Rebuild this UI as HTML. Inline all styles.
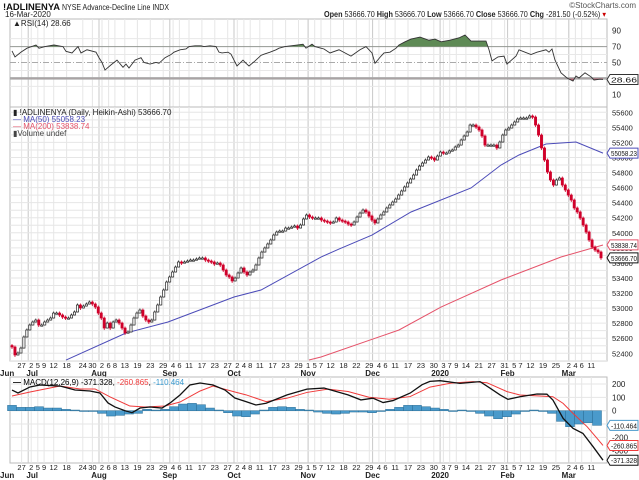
<!DOCTYPE html>
<html><head><meta charset="utf-8">
<style>
html,body{margin:0;padding:0;background:#fff;}
svg{display:block;font-family:"Liberation Sans",Arial,sans-serif;}
</style></head>
<body>
<svg id="chart" width="639" height="480" viewBox="0 0 639 480"></svg>
<script>
// ---------- DATA ----------
const closes = [52483,52377,52403,52469,52616,52709,52775,52815,52841,52775,52775,52815,52841,52868,52934,52934,52908,52881,52868,52868,52908,52948,53041,53001,53027,53054,53080,53054,53014,52934,52868,52735,52801,52735,52815,52841,52801,52735,52669,52682,52775,52868,52934,52974,52894,52841,52815,52841,52948,53041,53147,53240,53346,53413,53479,53545,53612,53598,53612,53625,53638,53638,53651,53665,53665,53638,53625,53612,53585,53598,53572,53505,53439,53413,53360,53399,53466,53532,53479,53439,53479,53505,53572,53665,53744,53798,53851,53904,53970,54010,54023,54023,54063,54063,54076,54090,54063,54103,54183,54236,54209,54196,54196,54196,54169,54156,54143,54130,54143,54196,54169,54156,54143,54116,54103,54143,54209,54262,54302,54276,54222,54169,54130,54183,54236,54276,54329,54369,54408,54448,54501,54555,54608,54661,54714,54767,54833,54886,54926,54966,55006,54993,54966,55019,55072,55059,55059,55086,55099,55139,55165,55232,55285,55338,55431,55431,55404,55365,55285,55165,55165,55165,55165,55126,55205,55298,55365,55391,55431,55471,55511,55524,55524,55524,55551,55537,55431,55298,55126,54966,54807,54701,54634,54701,54727,54634,54568,54501,54435,54329,54276,54196,54103,54010,53904,53811,53771,53745,53666.70];
const ma50Slot = [18,38,52,74,83,103,109,120,133,153,163,169,178,188,197];
const ma50Val  = [52310,52669,52815,53147,53240,53678,53784,53970,54276,54595,54900,55033,55179,55205,55058];
const ma200Slot = [99,103,129,143,163,183,197];
const ma200Val  = [52310,52350,52709,53014,53373,53678,53838];
const rsiSlot = [0,1,3,5,8,9,11,14,17,18,20,22,23,25,28,29,30,31,33,35,37,38,39,41,43,44,46,48,49,51,53,54,56,58,59,61,63,64,66,68,69,70,72,73,75,77,78,79,81,83,84,86,88,89,91,93,95,97,98,100,101,103,104,106,109,113,116,118,120,121,123,124,126,128,129,131,133,136,139,141,143,146,149,151,153,158,159,160,162,164,165,168,169,171,173,175,178,179,180,181,183,185,187,188,189,191,193,194,196,197];
const rsiVal = [64.5,57,63,68,72,68,70,72,70,64,62,70,62,66,63,56,50,40.5,47,53,44,48,43,53,56,50,48,50,49,56,60,63,66,67,70,71,71,70,71,70,63,62,63,60.5,45.6,53,49,45.6,52,59,60.5,63,66,68,70,71,72,73,68,73,70,68,67,62,66,58,66,70,62,49,58,62,63,68,72,76,79.5,82,78,79.5,76,78,81,84.6,77,77,66,52,57,58,48,58,66,63,60,63,66,63,67,53,37,30.5,26.7,33,30.5,37,32,28,29,28.66];
const macdSlot = [0,2,6,9.3,16,21,26,29.3,32,34.3,37.7,40,42.7,46,50,52.7,56,59.3,62.7,67,71,74.3,78,81.3,84.7,91.7,98.3,104,112,116.3,120.3,123.7,127,132.7,136.7,139.3,142.7,149.3,156,159.3,162.7,165.3,169.3,175,178.3,180.3,183.7,187,190.3,193.7,197];
const macdVal = [155,133,178,193,185,155,148,133,58,28,0,-15,20,28,20,58,118,193,208,193,155,95,68,43,56,119,162,170,119,81,94,61,76,132,195,220,225,205,218,170,118,85,105,125,124,80,-57,-132,-170,-270,-371.3];
const sigSlot = [0,6,16,22.7,27.7,32.7,39.3,44.3,51,56,62.7,67,74.3,78,84.7,91.7,98.3,105.3,112,119,125.7,132.7,139.3,146.3,153.7,158.3,165,169.3,176,180.3,183.7,187,191.7,195,197];
const sigVal = [110,140,185,163,163,103,35,28,35,65,148,185,140,119,68,94,137,162,144,101,86,106,177,207,218,210,143,118,110,105,55,-20,-120,-207,-260.9];
const histVal = [40,25,25,30,20,20,10,5,-5,-5,-20,-40,-35,-25,-20,10,5,10,30,50,55,45,20,5,-15,-40,-45,-25,5,25,30,25,10,5,-10,-20,-25,-20,-10,-10,-15,-5,10,25,40,40,30,20,10,0,5,-5,-20,-40,-60,-45,-25,0,5,0,-20,-80,-120,-100,-90,-110];
const tickLabels = ["27","2","5","9","12","18","24","30","2","6","8","13","19","23","29","4","6","11","17","23","27","2","4","8","11","17","23","29","1","5","7","12","18","22","29","4","6","11","17","23","30","3","7","9","14","21","27","31","5","7","12","19","25","2","4","6","11"];
const tickSlot = [3.2,6.4,8.6,10.7,13.9,18.2,23.6,26.8,30,32.2,34.3,37.6,41.8,46.1,50.4,53.7,55.8,59,63.3,67.6,71.9,75.1,77.3,79.4,82.6,86.9,91.2,95.5,98.7,100.9,103,106.2,110.5,114.8,119.1,122.3,124.5,127.7,132,136.3,140.6,143.8,145.9,148.1,151.3,155.6,159.9,164.2,167.4,169.5,172.8,177,181.3,185.6,187.8,189.9,193.1];
const monthLabels = ["Jul","Aug","Sep","Oct","Nov","Dec","2020","Feb","Mar"];
const monthSlot = [5.4,29,52.6,74,98.7,120.2,142.7,165.2,185.6];
const priceTicks = [52400,52600,52800,53000,53200,53400,53600,53800,54000,54200,54400,54600,54800,55000,55200,55400,55600];
const rsiTicks = [90,70,50,10];
const macdTicks = [200,100,0,-200,-300];

// ---------- SCALES ----------
const L = 10, R = 607;
const slotX = s => 12 + s * 3;
const barX = i => 12 + i * (589 / (closes.length - 1));
const pY = p => 112.3 + (55600 - p) * 0.0753;
const rY = v => 30.7 + (90 - v) * 0.795;
const mY = v => 410.7 - v * 0.1333;

const NS = "http://www.w3.org/2000/svg";
const svg = document.getElementById("chart");
function mk(tag, attrs, parent) {
  const el = document.createElementNS(NS, tag);
  for (const k in attrs) el.setAttribute(k, attrs[k]);
  (parent || svg).appendChild(el);
  return el;
}
function txt(x, y, s, attrs, parent) {
  const t = mk("text", Object.assign({x: x, y: y, "font-size": 8.5, fill: "#222"}, attrs || {}), parent);
  t.textContent = s;
  return t;
}

// ---------- HEADER ----------
let t;
t = txt(3, 10, "!ADLINENYA", {"font-size": 9.5, "font-weight": "bold", fill: "#111", textLength: 57, lengthAdjust: "spacingAndGlyphs"});


t = txt(62, 10, "NYSE Advance-Decline Line  INDX", {"font-size": 8, textLength: 107, lengthAdjust: "spacingAndGlyphs"});


t = txt(5, 17, "16-Mar-2020", {"font-size": 8});


t = txt(636, 8, "©StockCharts.com", {"font-size": 8, "text-anchor": "end", fill: "#555"});


t = mk("text", {x: 324, y: 17, "font-size": 8, fill: "#222", textLength: 282, lengthAdjust: "spacingAndGlyphs"});


t.innerHTML = '<tspan font-weight="bold">Open</tspan> 53666.70 <tspan font-weight="bold">High</tspan> 53666.70 <tspan font-weight="bold">Low</tspan> 53666.70 <tspan font-weight="bold">Close</tspan> 53666.70 <tspan font-weight="bold">Chg</tspan> -281.50 (-0.52%)<tspan fill="#c00"> ▾</tspan>';

// ---------- PANELS ----------
function panel(y0, y1, name) {
  const g = mk("g", {});
  
  
  mk("rect", {x: L, y: y0, width: R - L, height: y1 - y0, fill: "#fff", stroke: "#bbb", "stroke-width": 1}, g);
  tickSlot.forEach(s => mk("line", {x1: slotX(s), x2: slotX(s), y1: y0, y2: y1, stroke: "#e6e6e6", "stroke-width": 1}, g));
  monthSlot.forEach(s => mk("line", {x1: slotX(s), x2: slotX(s), y1: y0, y2: y1, stroke: "#c8c8c8", "stroke-width": 1}, g));
  return g;
}
function tag(y, s, col, name, parent) {
  const g = mk("g", {}, parent);
  
  
  mk("path", {d: `M607,${y} L610,${y - 5} L638,${y - 5} L638,${y + 5} L610,${y + 5} Z`, fill: "#fff", stroke: col, "stroke-width": 1}, g);
  txt(611, y + 3, s, {"font-size": 7.5, fill: "#111", textLength: 26, lengthAdjust: "spacingAndGlyphs"}, g);
}

// RSI panel
const rsiG = panel(19, 107, "rsi-panel");
[80, 60, 40, 20].forEach(v => mk("line", {x1: L, x2: R, y1: rY(v), y2: rY(v), stroke: "#e8e8e8"}, rsiG));
mk("line", {x1: L, x2: R, y1: rY(70), y2: rY(70), stroke: "#999", "stroke-width": 1}, rsiG);
mk("line", {x1: L, x2: R, y1: rY(50), y2: rY(50), stroke: "#aaa", "stroke-dasharray": "6,2,1,2"}, rsiG);
mk("line", {x1: L, x2: R, y1: rY(30), y2: rY(30), stroke: "#aaa", "stroke-width": 2.5}, rsiG);
const defs = mk("defs", {});
const cpA = mk("clipPath", {id: "above70"}, defs);
mk("rect", {x: L, y: 19, width: R - L, height: rY(70) - 19}, cpA);
const cpB = mk("clipPath", {id: "below30"}, defs);
mk("rect", {x: L, y: rY(30), width: R - L, height: 107 - rY(30)}, cpB);
const rsiPts = rsiSlot.map((s, i) => slotX(s) + "," + rY(rsiVal[i]));
const fillUp = mk("polygon", {points: slotX(rsiSlot[0]) + "," + rY(70) + " " + rsiPts.join(" ") + " " + slotX(rsiSlot[rsiSlot.length - 1]) + "," + rY(70), fill: "#5e8a55", "clip-path": "url(#above70)"}, rsiG);


const fillDn = mk("polygon", {points: slotX(rsiSlot[0]) + "," + rY(30) + " " + rsiPts.join(" ") + " " + slotX(rsiSlot[rsiSlot.length - 1]) + "," + rY(30), fill: "#b06070", "clip-path": "url(#below30)"}, rsiG);


const rsiLine = mk("polyline", {points: rsiPts.join(" "), fill: "none", stroke: "#333", "stroke-width": 0.9}, rsiG);


t = txt(13, 26, "▲RSI(14) 28.66", {"font-size": 8}, rsiG);


rsiTicks.forEach(v => {
  const tt = txt(612, rY(v) + 3, String(v), {"font-size": 8}, rsiG);
  
  
});
tag(rY(28.66), "28.66", "#333", "rsi-value-tag", rsiG);

// Price panel
const pG = panel(107, 361, "price-panel");
for (let p = 52300; p <= 55700; p += 100) {
  if (pY(p) > 107 && pY(p) < 361) mk("line", {x1: L, x2: R, y1: pY(p), y2: pY(p), stroke: "#e6e6e6"}, pG);
}
priceTicks.forEach(p => {
  const tt = txt(612, pY(p) + 3, String(p), {"font-size": 7.5}, pG);
  
  
});
const ma200 = mk("polyline", {points: ma200Slot.map((s, i) => slotX(s) + "," + pY(ma200Val[i])).join(" "), fill: "none", stroke: "#e5536a", "stroke-width": 1}, pG);


const ma50 = mk("polyline", {points: ma50Slot.map((s, i) => slotX(s) + "," + pY(ma50Val[i])).join(" "), fill: "none", stroke: "#4b4bb8", "stroke-width": 1}, pG);


const cG = mk("g", {}, pG);


closes.forEach((c, i) => {
  const o = i === 0 ? c + 20 : closes[i - 1];
  const x = barX(i);
  const up = c >= o;
  const yTop = pY(Math.max(o, c)), yBot = pY(Math.min(o, c));
  const h = Math.max(1.2, yBot - yTop);
  mk("line", {x1: x, x2: x, y1: yTop - 1.5, y2: yBot + (up ? 0.5 : 2), stroke: up ? "#222" : "#d0002a", "stroke-width": 0.8}, cG);
  const r = mk("rect", {x: x - 1.1, y: yTop, width: 2.2, height: h, fill: up ? "#fff" : "#d0002a", stroke: up ? "#222" : "#d0002a", "stroke-width": 0.7}, cG);
  
  
});
t = txt(13, 115, "▮ !ADLINENYA (Daily, Heikin-Ashi) 53666.70", {"font-size": 8}, pG);


t = txt(13, 122, "— MA(50) 55058.23", {"font-size": 8, fill: "#4b4bb8"}, pG);


t = txt(13, 129, "— MA(200) 53838.74", {"font-size": 8, fill: "#e5536a"}, pG);


t = txt(13, 136, "▮Volume undef", {"font-size": 8, fill: "#444"}, pG);


tag(pY(55058.23), "55058.23", "#4b4bb8", "ma50-value-tag", pG);
tag(pY(53838.74), "53838.74", "#e5536a", "ma200-value-tag", pG);
tag(pY(53666.70), "53666.70", "#111", "price-value-tag", pG);

function dateAxis(yDay, yMon, name) {
  const g = mk("g", {});
  
  
  tickLabels.forEach((s, i) => {
    const tt = txt(slotX(tickSlot[i]), yDay, s, {"font-size": 7.5, "text-anchor": "middle"}, g);
    
    
  });
  txt(0, yMon, "Jun", {"font-size": 8, "font-weight": "bold"}, g);
  monthLabels.forEach((s, i) => {
    const tt = txt(slotX(monthSlot[i]) + (i === 0 ? 4 : 0), yMon, s, {"font-size": 8, "font-weight": "bold", "text-anchor": "middle"}, g);
    
    
  });
}
dateAxis(368, 376, "top-date-axis");

// MACD panel
const mG = panel(377, 463, "macd-panel");
[200, 100, 0, -100, -200, -300].forEach(v => mk("line", {x1: L, x2: R, y1: mY(v), y2: mY(v), stroke: "#e6e6e6"}, mG));
macdTicks.forEach(v => {
  const tt = txt(612, mY(v) + 3, String(v), {"font-size": 8}, mG);
  
  
});
const hG = mk("g", {}, mG);


histVal.forEach((v, k) => {
  const x = slotX(k * 3);
  const y0 = mY(0), y1 = mY(v);
  const r = mk("rect", {x: x - 4.5, y: Math.min(y0, y1), width: 9, height: Math.max(0.8, Math.abs(y1 - y0)), fill: "#4a9acb", stroke: "#2b6e96", "stroke-width": 0.5}, hG);
  
  
});
const sigLine = mk("polyline", {points: sigSlot.map((s, i) => slotX(s) + "," + mY(sigVal[i])).join(" "), fill: "none", stroke: "#f03a3a", "stroke-width": 1}, mG);


const macdLine = mk("polyline", {points: macdSlot.map((s, i) => slotX(s) + "," + mY(macdVal[i])).join(" "), fill: "none", stroke: "#111", "stroke-width": 1.3}, mG);


t = mk("text", {x: 13, y: 385, "font-size": 8}, mG);


t.innerHTML = '<tspan font-weight="bold">—</tspan> MACD(12,26,9) -371.328, <tspan fill="#f03a3a">-260.865</tspan>, <tspan fill="#3a9ad0">-110.464</tspan>';
tag(mY(-110.464), "-110.464", "#4a9acb", "histogram-value-tag", mG);
tag(mY(-260.865), "-260.865", "#f03a3a", "signal-value-tag", mG);
tag(mY(-371.328), "-371.328", "#111", "macd-value-tag", mG);

dateAxis(470, 478, "bottom-date-axis");
</script>
</body></html>
